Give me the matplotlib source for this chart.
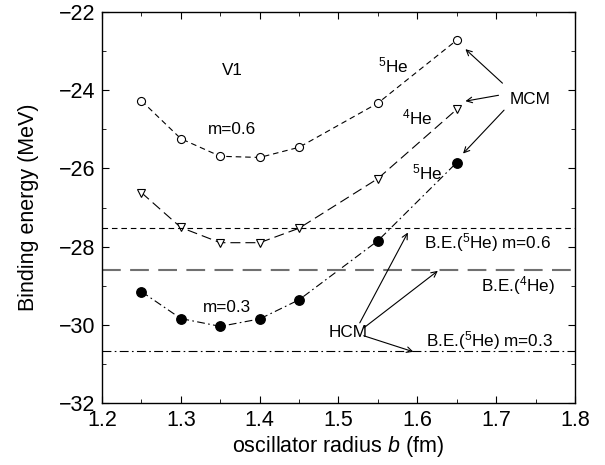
import matplotlib
matplotlib.use("Agg")
import matplotlib.pyplot as plt
from matplotlib.ticker import MultipleLocator

plt.rcParams['font.family'] = ['Liberation Sans', 'DejaVu Sans']
plt.rcParams['mathtext.fontset'] = 'custom'
plt.rcParams['mathtext.rm'] = 'Liberation Sans'
plt.rcParams['mathtext.it'] = 'Liberation Sans:italic'
plt.rcParams['mathtext.default'] = 'regular'

b = [1.25, 1.30, 1.35, 1.40, 1.45, 1.55, 1.65]
he5_m06 = [-24.27, -25.24, -25.69, -25.72, -25.46, -24.33, -22.72]
he4 = [-26.62, -27.51, -27.90, -27.90, -27.53, -26.26, -24.49]
he5_m03 = [-29.15, -29.84, -30.04, -29.85, -29.36, -27.85, -25.85]
be_he5_m06 = -27.52
be_he4 = -28.60
be_he5_m03 = -30.68

fig = plt.figure(figsize=(6.05, 4.65), dpi=100)
ax = fig.add_axes([0.1686, 0.1333, 0.7818, 0.8409])

ax.plot(b, he5_m06, color='black', lw=0.8, dashes=(5, 3.5), marker='o', ms=5.8,
        mfc='white', mec='black', mew=0.8)
ax.plot(b, he4, color='black', lw=0.8, dashes=(9, 4.5), marker='v', ms=6.3,
        mfc='white', mec='black', mew=0.8)
ax.plot(b, he5_m03, color='black', lw=0.8, dashes=(7, 3, 1.5, 3), marker='o', ms=6.8,
        mfc='black', mec='black')

ax.axhline(be_he5_m06, color='black', lw=0.8, dashes=(5, 3.5))
ax.axhline(be_he4, color='#707070', lw=1.5, dashes=(9, 4.5))
ax.axhline(be_he5_m03, color='black', lw=0.8, dashes=(8, 3, 1.5, 3))

ax.set_xlim(1.2, 1.8)
ax.set_ylim(-32, -22)
ax.xaxis.set_minor_locator(MultipleLocator(0.05))
ax.yaxis.set_minor_locator(MultipleLocator(1))
ax.tick_params(which='both', direction='in', top=True, right=True, labelsize=15.5)
ax.tick_params(which='major', length=5, pad=5)
ax.tick_params(which='minor', length=3)
for s in ax.spines.values():
    s.set_linewidth(1.0)
ax.set_xticks([1.2, 1.3, 1.4, 1.5, 1.6, 1.7, 1.8])
ax.set_xticklabels(['1.2', '1.3', '1.4', '1.5', '1.6', '1.7', '1.8'])
ax.set_yticks([-32, -30, -28, -26, -24, -22])
ax.set_yticklabels(['\u221232', '\u221230', '\u221228', '\u221226', '\u221224', '\u221222'])

ax.set_xlabel('oscillator radius $\\mathit{b}$ (fm)', fontsize=15.5, labelpad=2)
ax.set_ylabel('Binding energy (MeV)', fontsize=15.5, labelpad=14)

fs = 12.3
ax.text(1.365, -23.5, 'V1', fontsize=fs, ha='center', va='center')
ax.text(1.365, -25.0, 'm=0.6', fontsize=fs, ha='center', va='center')
ax.text(1.359, -29.56, 'm=0.3', fontsize=fs, ha='center', va='center')
ax.text(1.569, -23.36, '$^{5}$He', fontsize=fs, ha='center', va='center')
ax.text(1.600, -24.7, '$^{4}$He', fontsize=fs, ha='center', va='center')
ax.text(1.612, -26.1, '$^{5}$He', fontsize=fs, ha='center', va='center')
ax.text(1.743, -24.23, 'MCM', fontsize=fs, ha='center', va='center')
ax.text(1.512, -30.2, 'HCM', fontsize=fs, ha='center', va='center')
ax.text(1.689, -27.9, 'B.E.($^{5}$He) m=0.6', fontsize=fs, ha='center', va='center')
ax.text(1.728, -29.0, 'B.E.($^{4}$He)', fontsize=fs, ha='center', va='center')
ax.text(1.692, -30.41, 'B.E.($^{5}$He) m=0.3', fontsize=fs, ha='center', va='center')

arrow = dict(arrowstyle='->', color='black', lw=0.8, shrinkA=0, shrinkB=0)
for tail, head in [((1.708, -23.82), (1.661, -22.95)),
                   ((1.703, -24.13), (1.661, -24.28)),
                   ((1.710, -24.51), (1.658, -25.62)),
                   ((1.527, -29.95), (1.588, -27.64)),
                   ((1.532, -30.08), (1.626, -28.62)),
                   ((1.532, -30.28), (1.595, -30.69))]:
    ax.annotate('', xy=head, xytext=tail, arrowprops=arrow)

fig.savefig('out.png', dpi=100)
